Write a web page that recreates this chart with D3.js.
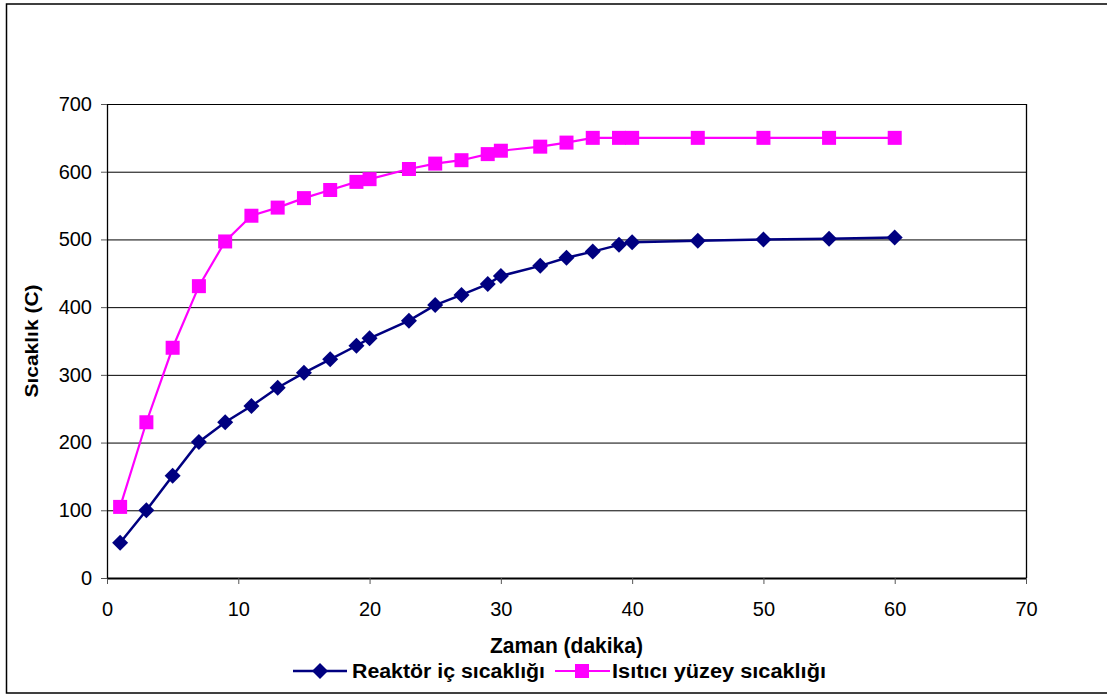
<!DOCTYPE html>
<html>
<head>
<meta charset="utf-8">
<script src="https://cdn.jsdelivr.net/npm/d3@7"></script>
<style>
  html, body { margin: 0; padding: 0; background: #fff; }
  svg { display: block; font-family: "Liberation Sans", Arial, sans-serif; }
</style>
</head>
<body>
<svg id="chart" width="1107" height="698"></svg>
<script>
// Time in minutes
const times = [1, 3, 5, 7, 9, 11, 13, 15, 17, 19, 20, 23, 25, 27, 29, 30, 33, 35, 37, 39, 40, 45, 50, 55, 60];
// Reactor inner temperature (°C)
const reactorTemp = [52, 100, 151, 201, 230, 254, 281, 303, 323, 343, 354, 380, 403, 418, 434, 446, 461, 473, 482, 492, 496, 498, 500, 501, 503];
// Heater surface temperature (°C)
const heaterTemp = [105, 230, 340, 431, 497, 535, 547, 561, 573, 585, 589, 604, 612, 617, 626, 631, 637, 643, 650, 650, 650, 650, 650, 650, 650];

const xTicks = [0, 10, 20, 30, 40, 50, 60, 70];
const yTicks = [0, 100, 200, 300, 400, 500, 600, 700];

const seriesNames = ["Reaktör iç sıcaklığı", "Isıtıcı yüzey sıcaklığı"];
const xTitle = "Zaman (dakika)";
const yTitle = "Sıcaklık (C)";

const svg = d3.select("#chart");
const plot = { left: 107, right: 1026, top: 104, bottom: 578 };

// Outer frame
svg.append("rect")
  .attr("x", 6.5).attr("y", 4)
  .attr("width", 1110).attr("height", 689)
  .attr("fill", "none").attr("stroke", "#000").attr("stroke-width", 1.5);

const x = d3.scaleLinear().domain([0, 70]).range([plot.left, plot.right]);
const y = d3.scaleLinear().domain([0, 700]).range([plot.bottom, plot.top]);

// Horizontal grid lines
svg.append("g")
  .selectAll("line")
  .data(yTicks.filter(v => v > 0))
  .join("line")
  .attr("x1", plot.left).attr("x2", plot.right)
  .attr("y1", d => y(d) + 0.5).attr("y2", d => y(d) + 0.5)
  .attr("stroke", "#000").attr("stroke-width", 1);

// Right edge of the plot area
svg.append("line")
  .attr("x1", plot.right + 0.5).attr("x2", plot.right + 0.5)
  .attr("y1", plot.top).attr("y2", plot.bottom)
  .attr("stroke", "#000").attr("stroke-width", 1.3);

// Axes
const xAxis = svg.append("g")
  .attr("transform", `translate(0,${plot.bottom})`)
  .call(d3.axisBottom(x).tickValues(xTicks).tickSize(6).tickPadding(18).tickSizeOuter(0));
const yAxis = svg.append("g")
  .attr("transform", `translate(${plot.left},0)`)
  .call(d3.axisLeft(y).tickValues(yTicks).tickSize(6).tickPadding(9).tickSizeOuter(0));

[xAxis, yAxis].forEach(g => {
  g.selectAll("text").attr("font-size", 20).attr("fill", "#000")
    .attr("font-family", "'Liberation Sans', Arial, sans-serif");
  g.selectAll(".tick line").attr("stroke", "#555").attr("stroke-width", 1);
});
xAxis.select(".domain").attr("stroke", "#000").attr("stroke-width", 2.2);
yAxis.select(".domain").attr("stroke", "#000").attr("stroke-width", 1.3);

// Axis titles
svg.append("text")
  .attr("x", (plot.left + plot.right) / 2).attr("y", 653)
  .attr("text-anchor", "middle").attr("font-weight", "bold").attr("font-size", 22)
  .attr("textLength", 153).attr("lengthAdjust", "spacingAndGlyphs")
  .text(xTitle);
svg.append("text")
  .attr("transform", `translate(38,${(plot.top + plot.bottom) / 2}) rotate(-90)`)
  .attr("text-anchor", "middle").attr("font-weight", "bold").attr("font-size", 19)
  .attr("textLength", 113).attr("lengthAdjust", "spacingAndGlyphs")
  .text(yTitle);

const line = d3.line().x(d => x(d[0])).y(d => y(d[1]));
const reactorData = times.map((t, i) => [t, reactorTemp[i]]);
const heaterData = times.map((t, i) => [t, heaterTemp[i]]);

const colors = ["#000080", "#FF00FF"];

// Heater surface series
svg.append("path").datum(heaterData)
  .attr("d", line).attr("fill", "none")
  .attr("stroke", colors[1]).attr("stroke-width", 2.2);
svg.append("g").selectAll("rect").data(heaterData).join("rect")
  .attr("x", d => x(d[0]) - 7).attr("y", d => y(d[1]) - 7)
  .attr("width", 14).attr("height", 14)
  .attr("fill", colors[1]);

// Reactor inner series
svg.append("path").datum(reactorData)
  .attr("d", line).attr("fill", "none")
  .attr("stroke", colors[0]).attr("stroke-width", 2.5);
const diamond = "M0,-8L8,0L0,8L-8,0Z";
svg.append("g").selectAll("path").data(reactorData).join("path")
  .attr("d", diamond)
  .attr("transform", d => `translate(${x(d[0])},${y(d[1])})`)
  .attr("fill", colors[0]);

// Legend
const legend = svg.append("g")
  .attr("font-weight", "bold").attr("font-size", 20);
const legendY = 671;
// first entry
legend.append("line").attr("x1", 293).attr("x2", 347).attr("y1", legendY).attr("y2", legendY)
  .attr("stroke", colors[0]).attr("stroke-width", 2.5);
legend.append("path").attr("d", diamond).attr("transform", `translate(320,${legendY})`).attr("fill", colors[0]);
legend.append("text").attr("x", 352).attr("y", legendY + 7)
  .attr("textLength", 193).attr("lengthAdjust", "spacingAndGlyphs")
  .text(seriesNames[0]);
// second entry
legend.append("line").attr("x1", 555).attr("x2", 610).attr("y1", legendY).attr("y2", legendY)
  .attr("stroke", colors[1]).attr("stroke-width", 2.2);
legend.append("rect").attr("x", 575).attr("y", legendY - 7).attr("width", 14).attr("height", 14).attr("fill", colors[1]);
legend.append("text").attr("x", 612).attr("y", legendY + 7)
  .attr("textLength", 214).attr("lengthAdjust", "spacingAndGlyphs")
  .text(seriesNames[1]);
</script>
</body>
</html>
